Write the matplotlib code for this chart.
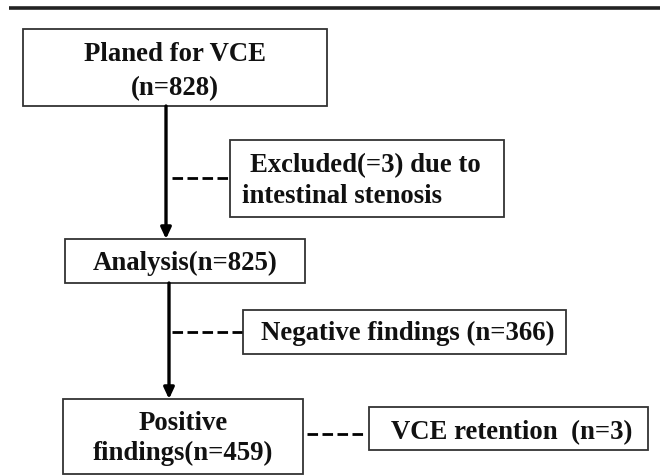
import matplotlib.pyplot as plt
from matplotlib.patches import Rectangle

# Flow chart content
planned_n = 828
excluded_n = 3
analysis_n = 825
negative_n = 366
positive_n = 459
retention_n = 3

main_labels = [
    ["Planed for VCE", f"(n={planned_n})"],
    [f"Analysis(n={analysis_n})"],
    ["Positive", f"findings(n={positive_n})"],
]
side_labels = [
    [f"Excluded(={excluded_n}) due to", "intestinal stenosis"],
    [f"Negative findings (n={negative_n})"],
    [f"VCE retention  (n={retention_n})"],
]

# layout in pixels (x0, y0, x1, y1), y downwards
main_boxes = [(23, 29, 327, 106), (65, 239, 305, 283), (63, 399, 303, 474)]
side_boxes = [(230, 140, 504, 217), (243, 310, 566, 354), (369, 407, 648, 450)]
main_baselines = [[61, 95], [270], [430, 460]]
side_baselines = [[172, 203], [340], [439]]

plt.rcParams['font.family'] = ['Liberation Serif', 'DejaVu Serif']
fig = plt.figure(figsize=(6.6, 4.75), dpi=100)
ax = fig.add_axes([0, 0, 1, 1])
ax.set_xlim(0, 660)
ax.set_ylim(475, 0)
ax.axis('off')

# top rule
ax.plot([9, 660], [7.5, 7.5], color='#222222', lw=2.6, solid_capstyle='butt')

for x0, y0, x1, y1 in main_boxes + side_boxes:
    ax.add_patch(Rectangle((x0, y0), x1 - x0, y1 - y0, fill=False,
                           edgecolor='#333333', lw=1.3))

fs = 19.3
txt = dict(fontsize=fs, fontweight='bold', color='#111111', va='baseline')

for lines, b, ys in zip(main_labels, main_boxes, main_baselines):
    xc = (b[0] + b[2]) / 2
    for s, y in zip(lines, ys):
        ax.text(xc, y, s, ha='center', **txt)

# excluded box is left aligned
ax.text(250, side_baselines[0][0], side_labels[0][0], ha='left', **txt)
ax.text(242, side_baselines[0][1], side_labels[0][1], ha='left', **txt)
for lines, b, ys in zip(side_labels[1:], side_boxes[1:], side_baselines[1:]):
    xc = (b[0] + b[2]) / 2 + 3
    for s, y in zip(lines, ys):
        ax.text(xc, y, s, ha='center', **txt)

# vertical arrows
arrow = dict(arrowstyle='-|>,head_length=0.6,head_width=0.28', color='black',
             lw=2.4, mutation_scale=11, shrinkA=0, shrinkB=0)
ax.annotate('', xy=(166, 239), xytext=(166, 106), arrowprops=arrow)
ax.annotate('', xy=(169, 399), xytext=(169, 283), arrowprops=arrow)

# dashed connectors
dash = dict(color='black', lw=2.0, ls=(0, (3.8, 1.6)))
ax.plot([172, 229], [178, 178], **dash)
ax.plot([172, 242], [332, 332], **dash)
ax.plot([307, 364], [434, 434], **dash)

fig.savefig('out.png', dpi=100)
